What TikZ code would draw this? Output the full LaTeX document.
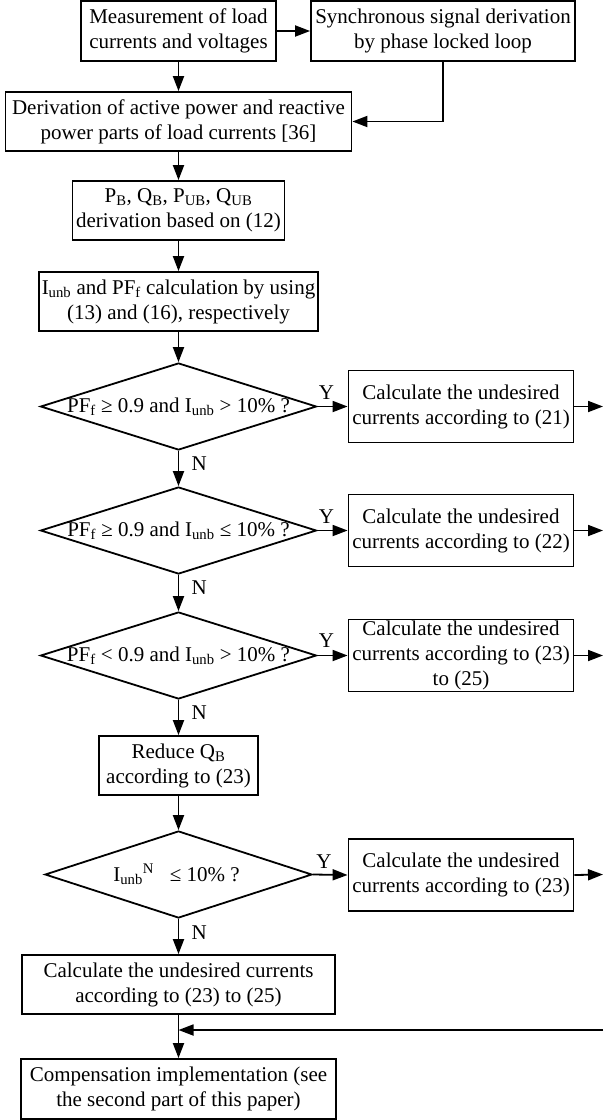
\documentclass[tikz,border=0pt]{standalone}
\usepackage{fontspec}
\setmainfont{Liberation Serif}
\usetikzlibrary{arrows.meta,shapes.geometric,calc}
\begin{document}
\begin{tikzpicture}[x=1pt,y=-1pt,
  fnt/.style={font=\fontsize{21}{25}\selectfont},
  box/.style={draw,line width=1.8pt,inner sep=0pt,align=center,fnt},
  rbox/.style={box,minimum width=225pt,minimum height=72pt},
  dia/.style={draw,diamond,line width=1.8pt,inner sep=0pt,minimum width=276pt,minimum height=87pt},
  txt/.style={fnt,inner sep=0pt,align=center},
  arr/.style={line width=1.8pt,-{Triangle[length=15pt,width=11pt]}}]
\useasboundingbox (0,0) rectangle (603,1120);
% boxes
\node[box,minimum width=195pt,minimum height=60pt] (A) at (178.5,31) {Measurement of load\\currents and voltages};
\node[box,minimum width=264pt,minimum height=60pt] (B) at (443,31) {Synchronous signal derivation\\by phase locked loop};
\node[box,minimum width=346pt,minimum height=59pt] (C) at (178.5,121.5) {Derivation of active power and reactive\\power parts of load currents [36]};
\node[box,minimum width=212pt,minimum height=59pt] (D) at (178.5,210.5) {P\textsubscript{B}, Q\textsubscript{B}, P\textsubscript{UB}, Q\textsubscript{UB}\\derivation based on (12)};
\node[box,minimum width=279pt,minimum height=59pt] (E) at (178.5,301.5) {I\textsubscript{unb} and PF\textsubscript{f} calculation by using\\(13) and (16), respectively};
% decisions
\node[dia] (d1) at (178.5,406.5) {};
\node[txt] (t1) at (d1) {PF\textsubscript{f} ≥ 0.9 and I\textsubscript{unb} > 10\% ?};
\node[dia] (d2) at (178.5,530.5) {};
\node[txt] (t2) at (d2) {PF\textsubscript{f} ≥ 0.9 and I\textsubscript{unb} ≤ 10\% ?};
\node[dia] (d3) at (178.5,655.5) {};
\node[txt] (t3) at (d3) {PF\textsubscript{f} < 0.9 and I\textsubscript{unb} > 10\% ?};
\node[box,minimum width=159pt,minimum height=59pt] (I) at (178.5,765.5) {Reduce Q\textsubscript{B}\\according to (23)};
\node[dia,minimum width=267pt] (d4) at (178.5,874.5) {};
\node[txt] (t4) at ($(d4)+(-2,0)$) {I\textsubscript{unb}\textsuperscript{N}\ \ \ ≤ 10\% ?};
\node[box,minimum width=313pt,minimum height=59pt] (K) at (178.5,984.5) {Calculate the undesired currents\\according to (23) to (25)};
\node[box,minimum width=315pt,minimum height=60pt] (L) at (178.5,1089) {Compensation implementation (see\\the second part of this paper)};
% right boxes
\node[rbox] (F) at (461,406.5) {Calculate the undesired\\currents according to (21)};
\node[rbox] (G) at (461,530.5) {Calculate the undesired\\currents according to (22)};
\node[rbox] (H) at (461,655.5) {Calculate the undesired\\currents according to (23)\\to (25)};
\node[rbox] (J) at (461,875) {Calculate the undesired\\currents according to (23)};
% connectors
\draw[arr] (A.east) -- (B.west);
\draw[arr] (A.south) -- (C.north);
\draw[arr] (B.south) |- (C.east);
\draw[arr] (C.south) -- (D.north);
\draw[arr] (D.south) -- (E.north);
\draw[arr] (E.south) -- (d1.north);
\draw[arr] (d1.south) -- (d2.north);
\draw[arr] (d2.south) -- (d3.north);
\draw[arr] (d3.south) -- (I.north);
\draw[arr] (I.south) -- (d4.north);
\draw[arr] (d4.south) -- (K.north);
\draw[arr] (K.south) -- (L.north);
\draw[arr] (d1.east) -- (F.west);
\draw[arr] (d2.east) -- (G.west);
\draw[arr] (d3.east) -- (H.west);
\draw[arr] (d4.east) -- (J.west);
\coordinate (Fo) at (603,406.5);
\coordinate (Go) at (603,530.5);
\coordinate (Ho) at (603,655.5);
\coordinate (Jo) at (603,874.5);
\draw[arr] (F.east) -- (Fo);
\draw[arr] (G.east) -- (Go);
\draw[arr] (H.east) -- (Ho);
\draw[arr] (J.east) -- (Jo);
\coordinate (mr) at (603,1030);
\coordinate (m) at (178.5,1030);
\draw[arr] (mr) -- (m);
% labels
\node[txt] (y1) at ($(d1.east)+(9,-14)$) {Y};
\node[txt] (y2) at ($(d2.east)+(9,-14)$) {Y};
\node[txt] (y3) at ($(d3.east)+(9,-15)$) {Y};
\node[txt] (y4) at ($(d4.east)+(11,-13)$) {Y};
\node[txt,anchor=west] (n1) at ($(d1.south)!0.5!(d2.north)+(13,-5)$) {N};
\node[txt,anchor=west] (n2) at ($(d2.south)!0.5!(d3.north)+(13,-5)$) {N};
\node[txt,anchor=west] (n3) at ($(d3.south)!0.5!(I.north)+(13,-5)$) {N};
\node[txt,anchor=west] (n4) at ($(d4.south)!0.5!(K.north)+(13,-4)$) {N};
\end{tikzpicture}
\end{document}
